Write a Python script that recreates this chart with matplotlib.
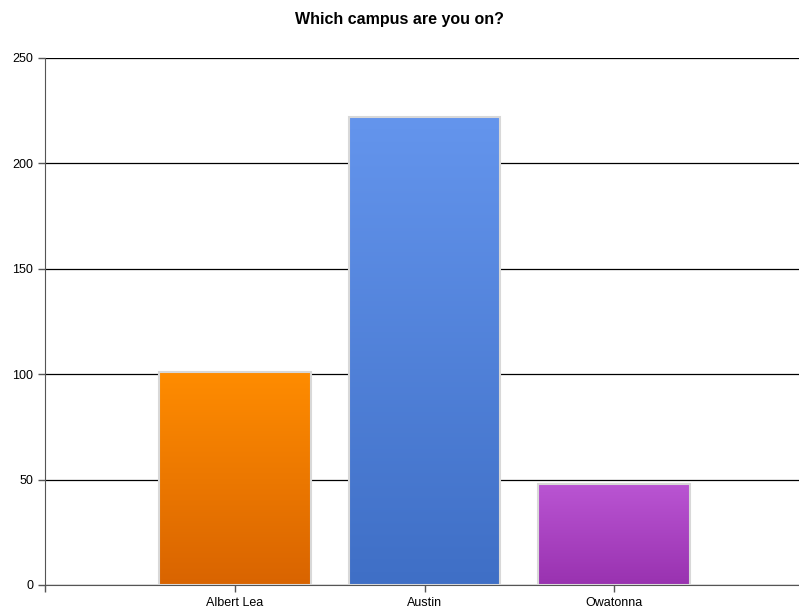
import numpy as np
import matplotlib
matplotlib.use("Agg")
import matplotlib.pyplot as plt
from matplotlib.colors import LinearSegmentedColormap

plt.rcParams['font.family'] = ['Liberation Sans', 'DejaVu Sans']

campuses = ["Albert Lea", "Austin", "Owatonna"]
counts = [101, 222, 48]
top_colors = ["#FF8C00", "#6495ED", "#BA55D3"]
bottom_colors = ["#D96400", "#3F6FC6", "#9932B0"]

fig = plt.figure(figsize=(7.99, 6.15), dpi=100)
ax = fig.add_axes([0.0563, 0.0488, 0.95, 0.857])

x = np.arange(1, len(campuses) + 1)
bars = ax.bar(x, counts, width=0.8, color="none", edgecolor="#D8D8D8", linewidth=1.5, zorder=3)

grad = np.linspace(0, 1, 256).reshape(-1, 1)
for bar, top, bot in zip(bars, top_colors, bottom_colors):
    cmap = LinearSegmentedColormap.from_list("g", [bot, top])
    x0, y0 = bar.get_x(), bar.get_y()
    w, h = bar.get_width(), bar.get_height()
    im = ax.imshow(grad, cmap=cmap, extent=[x0, x0 + w, y0, y0 + h],
                   origin="lower", aspect="auto", zorder=2)
    im.set_clip_path(bar)

ax.set_xlim(0, 4)
ax.set_ylim(0, 250)
ax.set_yticks([0, 50, 100, 150, 200, 250])
ax.set_xticks([0, 1, 2, 3])
ax.set_xticklabels([""] + campuses)
ax.yaxis.grid(True, color="black", linewidth=0.9, zorder=0)
ax.set_axisbelow(True)
ax.tick_params(axis="both", labelsize=9, color="#555555", length=5, width=1)
for s in ["top", "right"]:
    ax.spines[s].set_visible(False)
for s in ["left", "bottom"]:
    ax.spines[s].set_color("#555555")

fig.suptitle("Which campus are you on?", fontsize=11.5, fontweight="bold", y=0.98)

fig.savefig("out.png", dpi=100)
